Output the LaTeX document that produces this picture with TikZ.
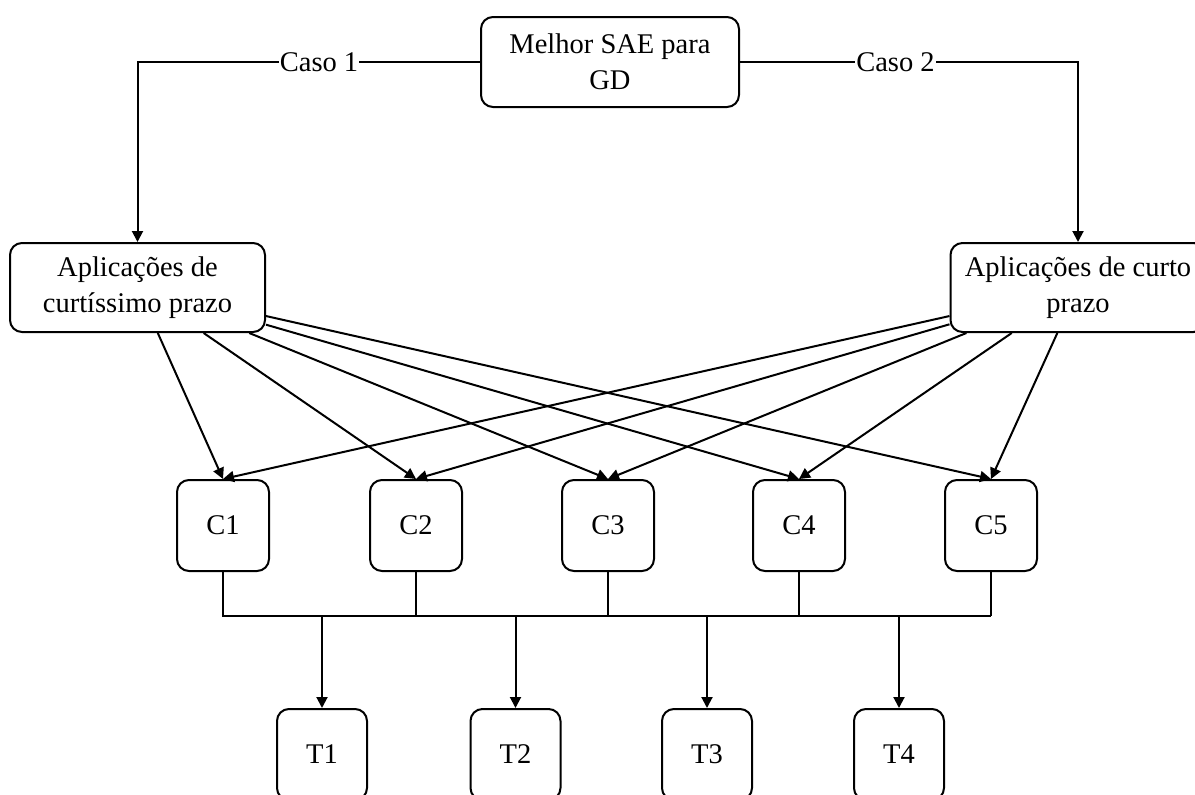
\documentclass[tikz,border=0pt]{standalone}
\usepackage{fontspec}
\setmainfont{Liberation Serif}
\usetikzlibrary{arrows.meta}
\begin{document}
\begin{tikzpicture}[x=1pt,y=-1pt,
  box/.style={draw, line width=2pt, rounded corners=12pt, inner sep=0pt,
              align=center, font=\fontsize{28.5}{36}\selectfont},
  conn/.style={line width=2pt},
  arr/.style={conn, -{Triangle[length=11pt,width=11pt]}},
  lbl/.style={fill=white, inner sep=1pt, font=\fontsize{28.5}{36}\selectfont}]
\useasboundingbox (0,0) rectangle (1195,795);

% main decision box and the two application groups
\node[box, minimum width=258pt, minimum height=90pt] (top) at (610,62) {Melhor SAE para\\GD};
\node[box, minimum width=255pt, minimum height=89pt] (L) at (137.5,287.5) {Aplicações de\\curtíssimo prazo};
\node[box, minimum width=255pt, minimum height=89pt] (R) at (1078,287.5) {Aplicações de curto\\prazo};

% criteria boxes
\foreach \i/\x in {1/223,2/416,3/608,4/799,5/991}
  \node[box, minimum width=92pt, minimum height=91pt] (C\i) at (\x,525.5) {C\i};

% technology boxes
\foreach \i/\x in {1/322,2/515.5,3/707,4/899}
  \node[box, minimum width=90pt, minimum height=91pt] (T\i) at (\x,754.5) {T\i};

% cases
\draw[arr] (top.west) -| node[lbl, pos=0.235] (k1) {Caso 1} (L.north);
\draw[arr] (top.east) -| node[lbl, pos=0.23] (k2) {Caso 2} (R.north);

% every application group feeds every criterion
\foreach \i in {1,...,5} {
  \draw[arr] (L) -- (C\i.north);
  \draw[arr] (R) -- (C\i.north);
}

% common bus from criteria to technologies
\coordinate (bus) at (0,616);
\draw[conn] (C1.south) |- (C5.south |- bus);
\foreach \i in {2,...,5}
  \draw[conn] (C\i.south) -- (C\i.south |- bus);
\foreach \i in {1,...,4}
  \draw[arr] (T\i.north |- bus) -- (T\i.north);
\end{tikzpicture}
\end{document}
